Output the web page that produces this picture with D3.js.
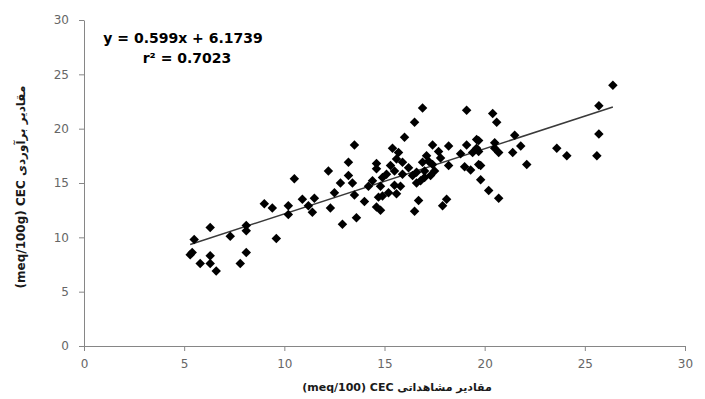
<!DOCTYPE html>
<html>
<head>
<meta charset="utf-8">
<script src="https://cdn.jsdelivr.net/npm/d3@7"></script>
<style>
  body { margin: 0; background: #fff; }
</style>
</head>
<body>
<div id="chart"></div>
<script>
const observed = [
  5.5, 5.4, 5.3, 5.8, 6.3, 6.3, 6.6, 6.3, 7.3, 7.8, 8.1, 8.1, 8.1, 9.0, 9.4, 9.6,
  10.2, 10.2, 10.5, 10.9, 11.2, 11.4, 11.5, 12.3, 12.2, 12.5, 12.8, 12.9, 13.2, 13.2,
  13.4, 13.5, 13.5, 13.6, 14.0, 14.2, 14.4, 14.6, 14.6, 14.7, 14.6, 14.8, 14.8,
  14.9, 14.9, 15.1, 15.2, 15.3, 15.4, 15.5, 15.5, 15.6, 15.6, 15.7, 15.8, 15.9,
  16.0, 16.4, 16.5, 16.5, 16.6, 16.7, 16.8, 16.9, 16.9, 17.0, 17.0, 17.1, 17.3,
  17.4, 17.4, 17.5, 17.7, 17.8, 17.9, 18.1, 18.2, 18.2, 18.8, 19.0, 19.1, 19.1,
  19.3, 19.4, 19.6, 19.6, 19.7, 20.4, 20.6, 21.5, 19.7, 20.5, 20.5, 21.8, 19.7,
  20.7, 21.4, 23.6, 24.1, 22.1, 19.8, 19.8, 20.2, 20.7, 26.4, 25.7, 25.7, 25.6,
  16.2, 16.6, 15.9, 17.2
];
const estimated = [
  9.8, 8.6, 8.4, 7.6, 8.3, 7.6, 6.9, 10.9, 10.1, 7.6, 8.6, 10.6, 11.1, 13.1, 12.7, 9.9,
  12.9, 12.1, 15.4, 13.5, 12.9, 12.3, 13.6, 12.7, 16.1, 14.1, 15.0, 11.2, 15.7, 16.9,
  15.0, 18.5, 13.9, 11.8, 13.3, 14.7, 15.2, 16.8, 16.3, 13.7, 12.8, 14.7, 12.5,
  15.5, 13.8, 15.8, 14.1, 16.6, 18.2, 14.8, 16.1, 17.2, 14.0, 17.8, 14.7, 15.8,
  19.2, 15.7, 20.6, 12.4, 15.0, 13.4, 15.2, 21.9, 16.9, 16.1, 15.5, 17.5, 15.7,
  18.5, 16.7, 16.1, 17.9, 17.3, 12.9, 13.5, 18.4, 16.6, 17.7, 16.5, 21.7, 18.5,
  16.2, 17.8, 19.0, 18.2, 16.7, 21.4, 20.6, 19.4, 18.9, 18.7, 18.2, 18.4, 17.9,
  17.8, 17.8, 18.2, 17.5, 16.7, 16.6, 15.3, 14.3, 13.6, 24.0, 22.1, 19.5, 17.5,
  16.4, 16.0, 16.9, 17.0
];
const xTicks = [0, 5, 10, 15, 20, 25, 30];
const yTicks = [0, 5, 10, 15, 20, 25, 30];
const slope = 0.599;
const intercept = 6.1739;
const rSquared = 0.7023;

const width = 705, height = 399;

const svg = d3.select('#chart').append('svg')
  .attr('width', width)
  .attr('height', height);

const x = d3.scaleLinear().domain([0, 30]).range([84, 685]);
const y = d3.scaleLinear().domain([0, 30]).range([346, 20]);

const axisColor = '#868686';
const labelColor = '#666666';
const tickFont = '"DejaVu Sans", sans-serif';

// x axis
const gx = svg.append('g')
  .attr('transform', 'translate(0,' + y(0) + ')')
  .call(d3.axisBottom(x).tickValues(xTicks).tickSize(5).tickSizeOuter(0).tickPadding(8));

// y axis
const gy = svg.append('g')
  .attr('transform', 'translate(' + x(0) + ',0)')
  .call(d3.axisLeft(y).tickValues(yTicks).tickSize(5).tickSizeOuter(0).tickPadding(10));

[gx, gy].forEach(g => {
  g.select('.domain').attr('stroke', axisColor);
  g.selectAll('.tick line').attr('stroke', axisColor);
  g.selectAll('.tick text')
    .attr('fill', labelColor)
    .style('font-family', tickFont)
    .style('font-size', '12px');
});

// regression line over the data range
const xMin = d3.min(observed), xMax = d3.max(observed);
svg.append('line')
  .attr('x1', x(xMin))
  .attr('y1', y(slope * xMin + intercept))
  .attr('x2', x(xMax))
  .attr('y2', y(slope * xMax + intercept))
  .attr('stroke', '#3a3a3a')
  .attr('stroke-width', 1.5);

// points as diamonds
const diamond = d3.symbol().type(d3.symbolSquare).size(45);
svg.append('g')
  .selectAll('path')
  .data(observed.map((d, i) => ({ x: d, y: estimated[i] })))
  .enter()
  .append('path')
  .attr('d', diamond)
  .attr('transform', d => 'translate(' + x(d.x) + ',' + y(d.y) + ') rotate(45)')
  .attr('fill', '#000');

// equation label
const eq = svg.append('text')
  .attr('x', 183)
  .attr('y', 43)
  .attr('text-anchor', 'middle')
  .style('font-family', tickFont)
  .style('font-weight', 'bold')
  .style('font-size', '14px')
  .attr('fill', '#000');
eq.append('tspan').text('y = ' + slope + 'x + ' + intercept);
eq.append('tspan')
  .attr('x', 187)
  .attr('dy', 20)
  .text('r² = ' + rSquared);

// axis titles
svg.append('text')
  .attr('x', 397)
  .attr('y', 391)
  .attr('text-anchor', 'middle')
  .style('font-family', tickFont)
  .style('font-weight', 'bold')
  .style('font-size', '11px')
  .attr('fill', '#1a1a1a')
  .text('(meq/100) CEC مقادیر مشاهداتی');

svg.append('text')
  .attr('transform', 'translate(25,187) rotate(-90)')
  .attr('text-anchor', 'middle')
  .style('font-family', tickFont)
  .style('font-weight', 'bold')
  .style('font-size', '12px')
  .attr('fill', '#1a1a1a')
  .text('(meq/100g) CEC مقادیر برآوردی');
</script>
</body>
</html>
